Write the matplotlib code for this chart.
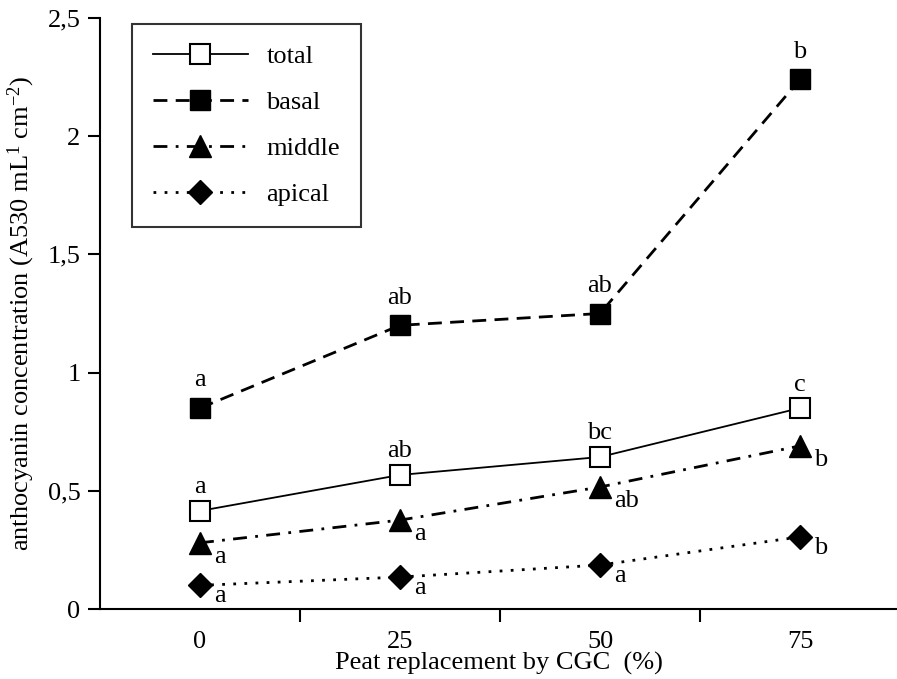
import numpy as np
import matplotlib
matplotlib.use("Agg")
import matplotlib.pyplot as plt

# peat replacement levels (categorical x axis)
categories = ["0", "25", "50", "75"]

total = [0.415, 0.567, 0.643, 0.85]
basal = [0.85, 1.20, 1.25, 2.24]
middle = [0.28, 0.376, 0.516, 0.69]
apical = [0.10, 0.135, 0.186, 0.305]

total_letters = ["a", "ab", "bc", "c"]
basal_letters = ["a", "ab", "ab", "b"]
middle_letters = ["a", "a", "ab", "b"]
apical_letters = ["a", "a", "a", "b"]

plt.rcParams["font.family"] = ["Liberation Serif", "DejaVu Serif"]
plt.rcParams["font.size"] = 19
plt.rcParams["mathtext.fontset"] = "custom"
plt.rcParams["mathtext.rm"] = "Liberation Serif"
plt.rcParams["mathtext.it"] = "Liberation Serif:italic"

fig = plt.figure(figsize=(8.97, 6.79), dpi=100)
ax = fig.add_axes([100 / 897, 70 / 679, 797 / 897, 591 / 679])

x = np.arange(len(categories))

ax.plot(x, total, color="black", lw=1.3, ls="-", marker="s", ms=15,
        mfc="white", mec="black", mew=1.5, label="total")
ax.plot(x, basal, color="black", lw=2, ls=(0, (5, 3)), marker="s", ms=15,
        mfc="black", mec="black", label="basal")
ax.plot(x, middle, color="black", lw=2, ls=(0, (5, 3, 1, 3)), marker="^", ms=16,
        mfc="black", mec="black", label="middle")
ax.plot(x, apical, color="black", lw=2, ls=(0, (1, 3)), marker="D", ms=12,
        mfc="black", mec="black", label="apical")

# significance letters
for i in x:
    ax.annotate(total_letters[i], (i, total[i]), xytext=(0, 9), textcoords="offset points",
                ha="center", va="bottom")
    ax.annotate(basal_letters[i], (i, basal[i]), xytext=(0, 12), textcoords="offset points",
                ha="center", va="bottom")
    ax.annotate(middle_letters[i], (i, middle[i]), xytext=(10, -2), textcoords="offset points",
                ha="left", va="top")
    ax.annotate(apical_letters[i], (i, apical[i]), xytext=(10, 0), textcoords="offset points",
                ha="left", va="top")

ax.set_xlim(-0.5, 3.485)
ax.set_ylim(0, 2.5)

ax.set_xticks(x)
ax.set_xticklabels(categories)
ax.set_xticks(np.arange(0.5, 3.0, 1.0), minor=True)
ax.tick_params(axis="x", which="major", length=0, pad=16)
ax.tick_params(axis="x", which="minor", length=9, width=1.5, direction="out")

ax.set_yticks([0, 0.5, 1, 1.5, 2, 2.5])
ax.set_yticklabels(["0", "0,5", "1", "1,5", "2", "2,5"])
ax.tick_params(axis="y", length=9, width=1.5, direction="out", pad=5)

ax.spines["top"].set_visible(False)
ax.spines["right"].set_visible(False)
ax.spines["left"].set_linewidth(1.5)
ax.spines["bottom"].set_linewidth(1.5)

ax.set_xlabel("Peat replacement by CGC  (%)", labelpad=-1)
ax.set_ylabel("anthocyanin concentration (A530 mL$^{1}$ cm$^{-2}$)", labelpad=8)

leg = ax.legend(loc="upper left", bbox_to_anchor=(0.04, 0.99), frameon=True,
                fancybox=False, edgecolor="black", handlelength=3.6,
                labelspacing=0.85, borderpad=0.8, handletextpad=0.7,
                borderaxespad=0)
leg.get_frame().set_linewidth(1.5)

fig.savefig("out.png", dpi=100)
